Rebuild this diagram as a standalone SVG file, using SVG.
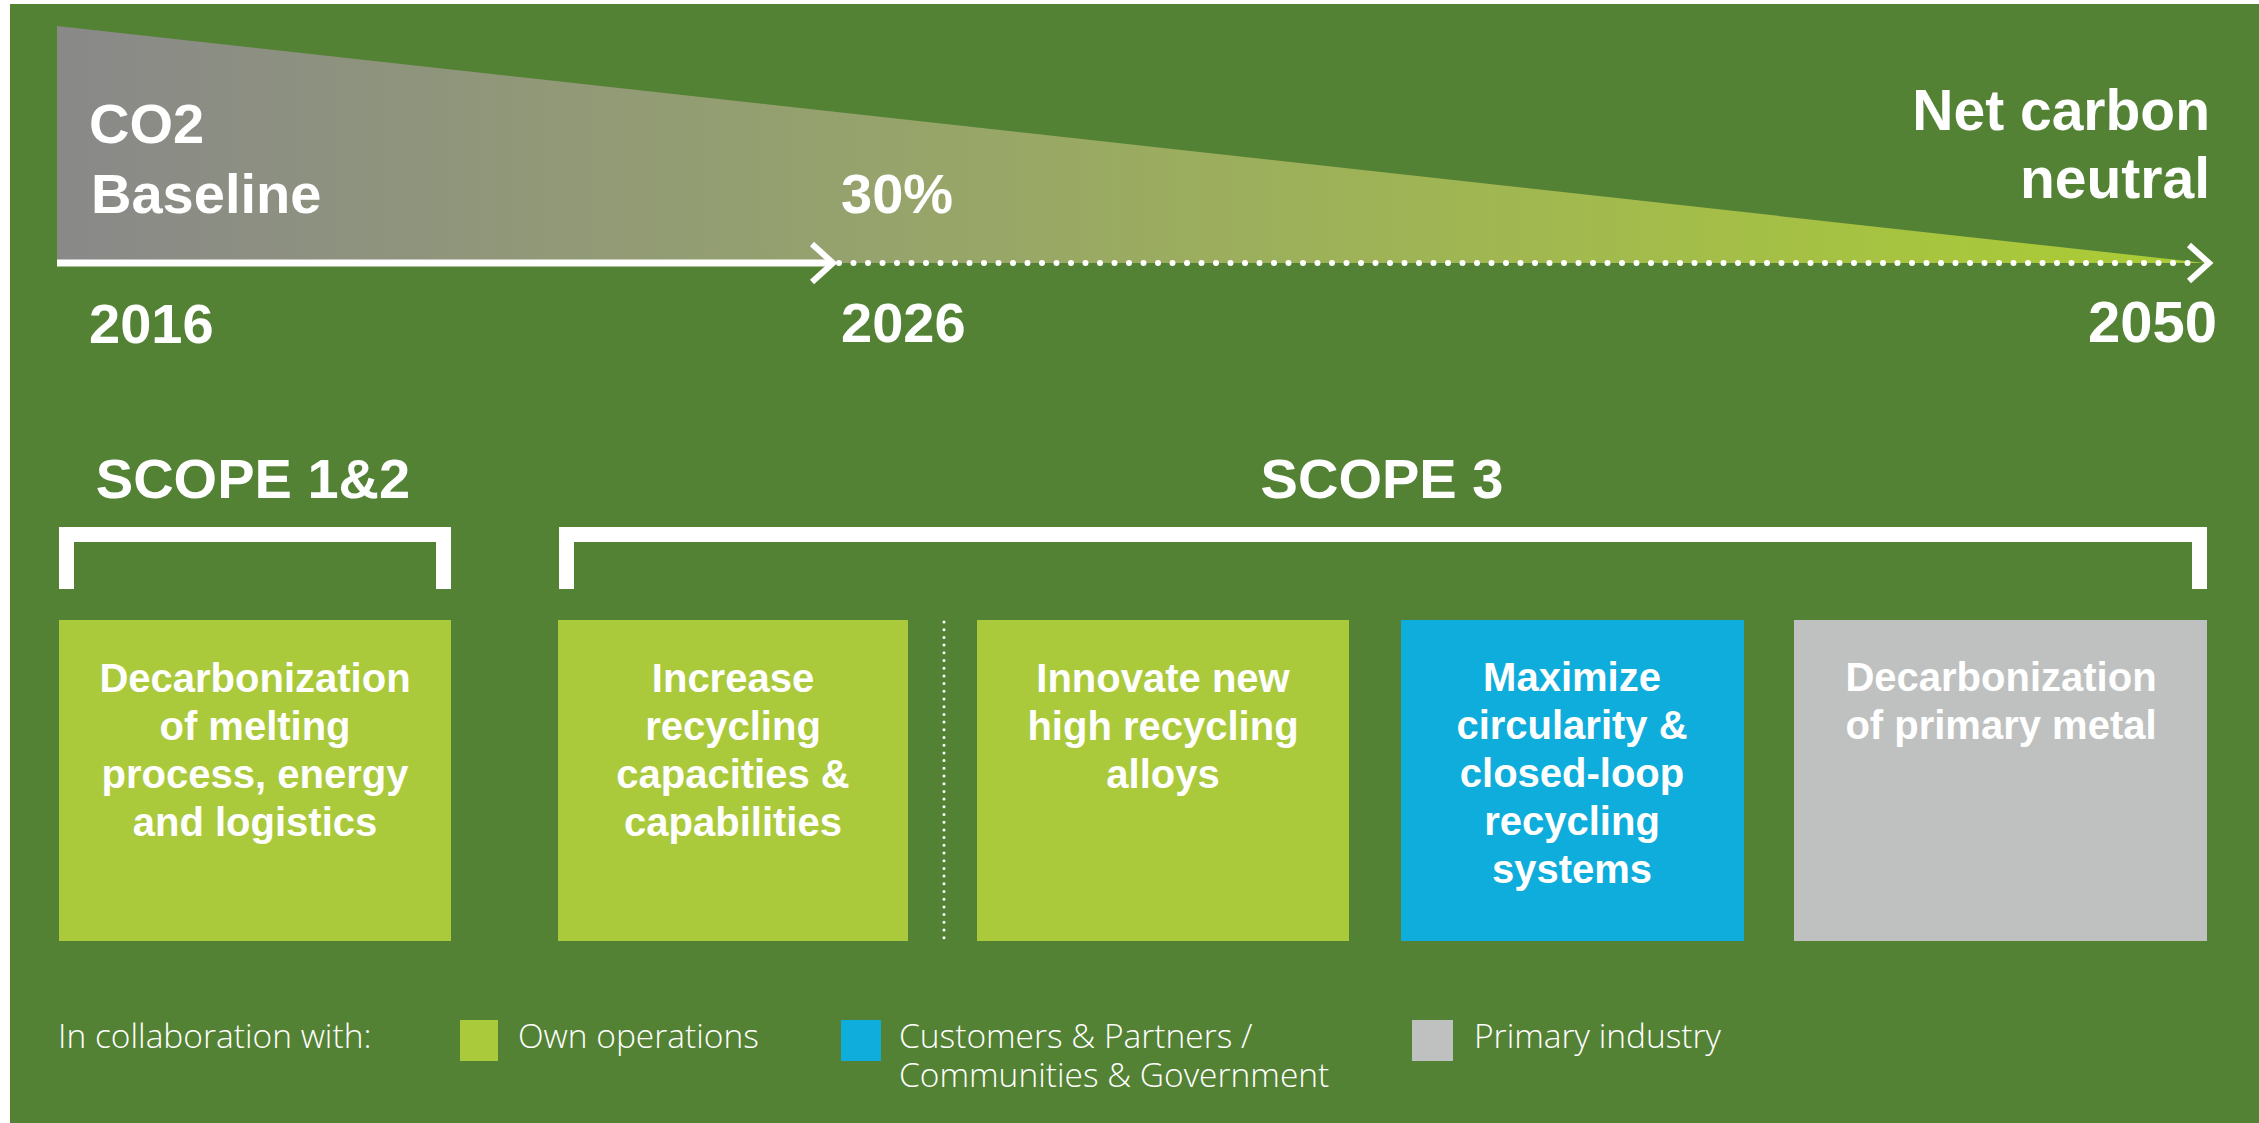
<svg xmlns="http://www.w3.org/2000/svg" width="2259" height="1123" viewBox="0 0 2259 1123">
  <defs>
    <linearGradient id="fade" gradientUnits="userSpaceOnUse" x1="57" y1="0" x2="2100" y2="0">
      <stop offset="0" stop-color="#898989"/>
      <stop offset="0.4" stop-color="#96a36c"/>
      <stop offset="1" stop-color="#aaca38"/>
    </linearGradient>
  </defs>
  <style>
    .big { font-family: "Liberation Sans", Arial, sans-serif; font-weight: bold; font-size: 56px; fill: #ffffff; }
    .box-text { font-family: "Liberation Sans", Arial, sans-serif; font-weight: bold; font-size: 40px; fill: #ffffff; text-anchor: middle; }
    .legend { font-family: "Open Sans", "Liberation Sans", sans-serif; font-weight: 300; font-size: 33.5px; fill: #ffffff; }
    .green { fill: #aaca3c; }
    .blue { fill: #0eaddc; }
    .gray { fill: #bfc1c0; }
    .bracket { fill: none; stroke: #ffffff; stroke-width: 15; }
    .chev { fill: none; stroke: #ffffff; stroke-width: 6; }
  </style>
  <rect x="0" y="0" width="2259" height="1123" fill="#ffffff"/>
  <rect x="10" y="4" width="2249" height="1119" fill="#548235"/>

  <g id="timeline">
    <polygon points="57,26 2205,263 57,263" fill="url(#fade)"/>
    <text class="big" x="89" y="143">CO2</text>
    <text class="big" x="91" y="213">Baseline</text>
    <text class="big" x="841" y="213">30%</text>
    <text class="big" x="2210" y="130" text-anchor="end" style="font-size:57px">Net carbon</text>
    <text class="big" x="2210" y="198" text-anchor="end" style="font-size:57px">neutral</text>
    <text class="big" x="89" y="343">2016</text>
    <text class="big" x="841" y="342">2026</text>
    <text class="big" x="2217" y="342" text-anchor="end" style="font-size:58px">2050</text>
  </g>

  <g id="connectors">
    <line x1="57" y1="263" x2="831" y2="263" stroke="#ffffff" stroke-width="7"/>
    <polyline class="chev" points="812,244 833,263 812,282"/>
    <line x1="839" y1="263" x2="2200" y2="263" stroke="#ffffff" stroke-width="6" stroke-linecap="round" stroke-dasharray="0 14.5"/>
    <polyline class="chev" points="2189,245 2209,263 2189,281"/>
    <line x1="944" y1="622" x2="944" y2="943" stroke="#ffffff" stroke-width="3" stroke-linecap="round" stroke-dasharray="0 7.7"/>
  </g>

  <g id="scope12">
    <text class="big" x="253" y="498" text-anchor="middle">SCOPE 1&amp;2</text>
    <path class="bracket" d="M66.5,589 V534.5 H443.5 V589"/>
  </g>
  <g id="scope3">
    <text class="big" x="1382" y="498" text-anchor="middle">SCOPE 3</text>
    <path class="bracket" d="M566.5,589 V534.5 H2199.5 V589"/>
  </g>

  <g id="box-melting">
    <rect class="green" x="59" y="620" width="392" height="321"/>
    <text class="box-text" x="255" y="692">Decarbonization</text>
    <text class="box-text" x="255" y="740">of melting</text>
    <text class="box-text" x="255" y="788">process, energy</text>
    <text class="box-text" x="255" y="836">and logistics</text>
  </g>
  <g id="box-capacities">
    <rect class="green" x="558" y="620" width="350" height="321"/>
    <text class="box-text" x="733" y="692">Increase</text>
    <text class="box-text" x="733" y="740">recycling</text>
    <text class="box-text" x="733" y="788">capacities &amp;</text>
    <text class="box-text" x="733" y="836">capabilities</text>
  </g>
  <g id="box-alloys">
    <rect class="green" x="977" y="620" width="372" height="321"/>
    <text class="box-text" x="1163" y="692">Innovate new</text>
    <text class="box-text" x="1163" y="740">high recycling</text>
    <text class="box-text" x="1163" y="788">alloys</text>
  </g>
  <g id="box-circularity">
    <rect class="blue" x="1401" y="620" width="343" height="321"/>
    <text class="box-text" x="1572" y="691">Maximize</text>
    <text class="box-text" x="1572" y="739">circularity &amp;</text>
    <text class="box-text" x="1572" y="787">closed-loop</text>
    <text class="box-text" x="1572" y="835">recycling</text>
    <text class="box-text" x="1572" y="883">systems</text>
  </g>
  <g id="box-primary">
    <rect class="gray" x="1794" y="620" width="413" height="321"/>
    <text class="box-text" x="2001" y="691">Decarbonization</text>
    <text class="box-text" x="2001" y="739">of primary metal</text>
  </g>

  <g id="legend">
    <text class="legend" x="58" y="1048">In collaboration with:</text>
    <rect class="green" x="460" y="1020" width="38" height="41"/>
    <text class="legend" x="518" y="1048">Own operations</text>
    <rect class="blue" x="841" y="1020" width="40" height="41"/>
    <text class="legend" x="899" y="1048">Customers &amp; Partners /</text>
    <text class="legend" x="899" y="1087">Communities &amp; Government</text>
    <rect class="gray" x="1412" y="1020" width="41" height="41"/>
    <text class="legend" x="1474" y="1048">Primary industry</text>
  </g>
</svg>
